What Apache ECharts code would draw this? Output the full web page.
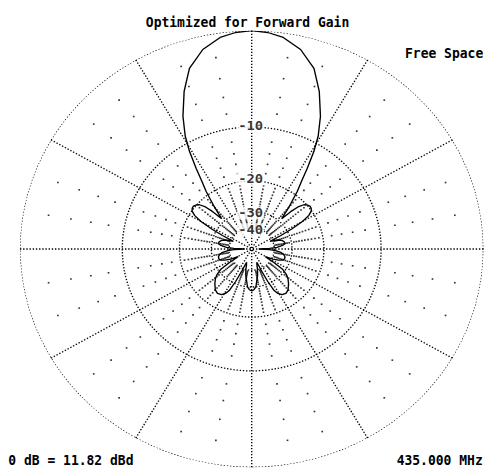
<!DOCTYPE html>
<html><head><meta charset="utf-8">
<script src="https://cdn.jsdelivr.net/npm/echarts@6/dist/echarts.min.js"></script>
<style>
html,body{margin:0;padding:0;background:#fff;overflow:hidden;}
#chart{width:471px;height:471px;transform:scaleX(1.0616);transform-origin:0 0;}
</style></head><body>
<div id="chart"></div>
<script>
// ---- texts ----
const titleText = 'Optimized for Forward Gain';
const envText = 'Free Space';
const refText = '0 dB = 11.82 dBd';
const freqText = '435.000 MHz';

// ---- grid (ARRL log scale, dB) ----
const ringDb = [0, -10, -20, -30, -40];
const ringLabelDb = [-10, -20, -30, -40];
const ringLabels = ['-10', '-20', '-30', '-40'];
const minorSpokeDeg = [10,20,40,50,70,80,100,110,130,140,160,170,190,200,220,230,250,260,280,290,310,320,340,350];
const coarseDotDb = [-2,-4,-6,-8,-12,-14,-16,-18];
const fineDotDb = [-21,-22,-23,-24,-25,-26,-27,-28,-29,-31,-32,-33,-34,-35,-36,-37,-38,-39];

// ---- pattern (half, symmetric): azimuth deg from forward, relative gain dB ----
const patternAngleDeg = [0,4,8,13,18,22,26,29,31,33,34.5,36.7,39.4,41.5,43,44.5,46,48,50,52,54,56,58,60,62,64,66,68,71,74,77,80,83,86,88,90,92,94,97,100,104,108,111,114,117,119,121,123,125,128,131,135,140,144,148,151,153,155,157,160,163,165,168,171,174,177,180];
const patternGainDb  = [0,-0.1,-0.37,-1.1,-2.4,-4.3,-6.7,-9.0,-11.2,-14.1,-16.4,-19.1,-23.0,-26.3,-28.5,-24.5,-22,-20.5,-19.9,-19.6,-19.7,-20.1,-21.2,-23.5,-28,-34,-42,-38.5,-35.5,-34,-33.2,-33,-34.5,-38,-44,-60,-44,-39,-35.5,-33.8,-32.8,-32.7,-33.5,-35.5,-39,-43,-46,-37,-31,-28.5,-27,-25.6,-24.2,-23.7,-24,-25,-26.5,-31,-38,-47,-44,-40,-36,-33.3,-30,-28.8,-28.3];

// ARRL log scale: radius factor 0.89 per 2 dB
function dbToR(db) { return Math.pow(0.89, -db / 2); }

const patternData = [];
for (let i = 0; i < patternAngleDeg.length; i++) patternData.push([dbToR(patternGainDb[i]), patternAngleDeg[i]]);
for (let i = patternAngleDeg.length - 2; i >= 0; i--) patternData.push([dbToR(patternGainDb[i]), 360 - patternAngleDeg[i]]);

const dotted = [1.3, 1.7];
const ringSeries = ringDb.map(db => {
  const d = [];
  for (let a = 0; a <= 360; a += 1) d.push([dbToR(db), a]);
  return {
    type: 'line', coordinateSystem: 'polar', data: d, showSymbol: false, silent: true,
    lineStyle: { color: '#000', width: 1.3, type: dotted }, z: 1
  };
});

const dots = [];
minorSpokeDeg.forEach(a => {
  coarseDotDb.concat(fineDotDb).forEach(db => dots.push([dbToR(db), a]));
});

const labelOffsets = [[-1, -1], [-1, -2], [-1, 2], [-1, 2]];
const labelData = ringLabelDb.map((db, i) => ({
  value: [dbToR(db), 0],
  label: { formatter: ringLabels[i], offset: labelOffsets[i] }
}));

const font = 'bold 14px "DejaVu Sans Mono", "Liberation Mono", monospace';
const SX = 1.0616;
const TS = 0.875;

const chart = echarts.init(document.getElementById('chart'), null, { renderer: 'svg' });
chart.setOption({
  animation: false,
  polar: { center: [251.7 / SX, 249], radius: 218.3 },
  angleAxis: {
    type: 'value', min: 0, max: 360, interval: 30, startAngle: 90, clockwise: true,
    axisLine: { show: false }, axisTick: { show: false }, axisLabel: { show: false },
    splitLine: { show: true, lineStyle: { color: '#000', width: 1.3, type: dotted } }
  },
  radiusAxis: {
    type: 'value', min: 0, max: 1,
    axisLine: { show: false }, axisTick: { show: false }, axisLabel: { show: false },
    splitLine: { show: false }
  },
  graphic: [
    { type: 'text', x: 247.5 / SX, y: 22, scaleX: TS, style: { text: titleText, font: font, textAlign: 'center', textVerticalAlign: 'middle', fill: '#000' } },
    { type: 'text', x: 405 / SX, y: 52.5, scaleX: TS, style: { text: envText, font: font, textAlign: 'left', textVerticalAlign: 'middle', fill: '#000' } },
    { type: 'text', x: 8.3 / SX, y: 459.5, scaleX: TS, style: { text: refText, font: font, textAlign: 'left', textVerticalAlign: 'middle', fill: '#000' } },
    { type: 'text', x: 482.7 / SX, y: 459.5, scaleX: TS, style: { text: freqText, font: font, textAlign: 'right', textVerticalAlign: 'middle', fill: '#000' } }
  ],
  series: ringSeries.concat([
    {
      type: 'scatter', coordinateSystem: 'polar', data: dots, silent: true,
      symbol: 'rect', symbolSize: 1.6, itemStyle: { color: '#000' }, z: 1
    },
    {
      type: 'scatter', coordinateSystem: 'polar', data: labelData, silent: true,
      symbolSize: 1, itemStyle: { color: 'rgba(0,0,0,0)' }, z: 5,
      label: {
        show: true, position: 'inside', color: '#000', backgroundColor: '#fff',
        padding: [0, 1], fontFamily: '"DejaVu Sans Mono", monospace', fontWeight: 'bold', fontSize: 13
      }
    },
    {
      type: 'line', coordinateSystem: 'polar', data: patternData, showSymbol: false, silent: true,
      lineStyle: { color: '#000', width: 1.3 }, z: 10
    }
  ])
});
</script>
</body></html>
